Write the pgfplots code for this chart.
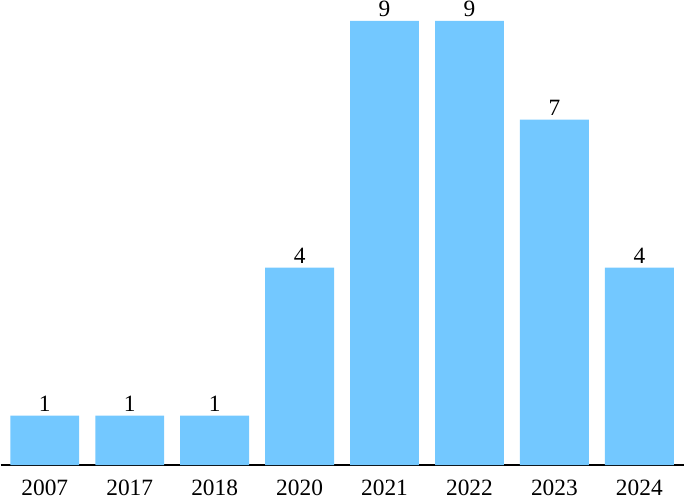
\documentclass[border=0pt]{standalone}
\usepackage{pgfplots}
\pgfplotsset{compat=1.18}
\usepackage{fontspec}
\setmainfont{Liberation Serif}
\definecolor{barblue}{HTML}{73C8FF}

\begin{document}
\begin{tikzpicture}
\begin{axis}[
  scale only axis,
  width=685bp, height=445bp,
  ybar, bar width=69bp,
  xmin=-0.52, xmax=7.53,
  ymin=0, ymax=9,
  xtick=data,
  xticklabels={2007,2017,2018,2020,2021,2022,2023,2024},
  axis x line*=bottom,
  axis y line=none,
  x axis line style={-, line width=1.3bp},
  major tick length=0pt,
  xticklabel style={font=\fontsize{23.5}{26}\selectfont, yshift=-13bp, inner sep=1.5bp, text depth=2.5bp},
  nodes near coords,
  every node near coord/.append style={font=\fontsize{23.5}{26}\selectfont, inner sep=1.5bp, yshift=2bp},
  /pgf/number format/assume math mode=true,
]
\addplot[fill=barblue, draw=none] coordinates {
  (0,1) (1,1) (2,1) (3,4) (4,9) (5,9) (6,7) (7,4)
};
\end{axis}
\end{tikzpicture}
\end{document}
